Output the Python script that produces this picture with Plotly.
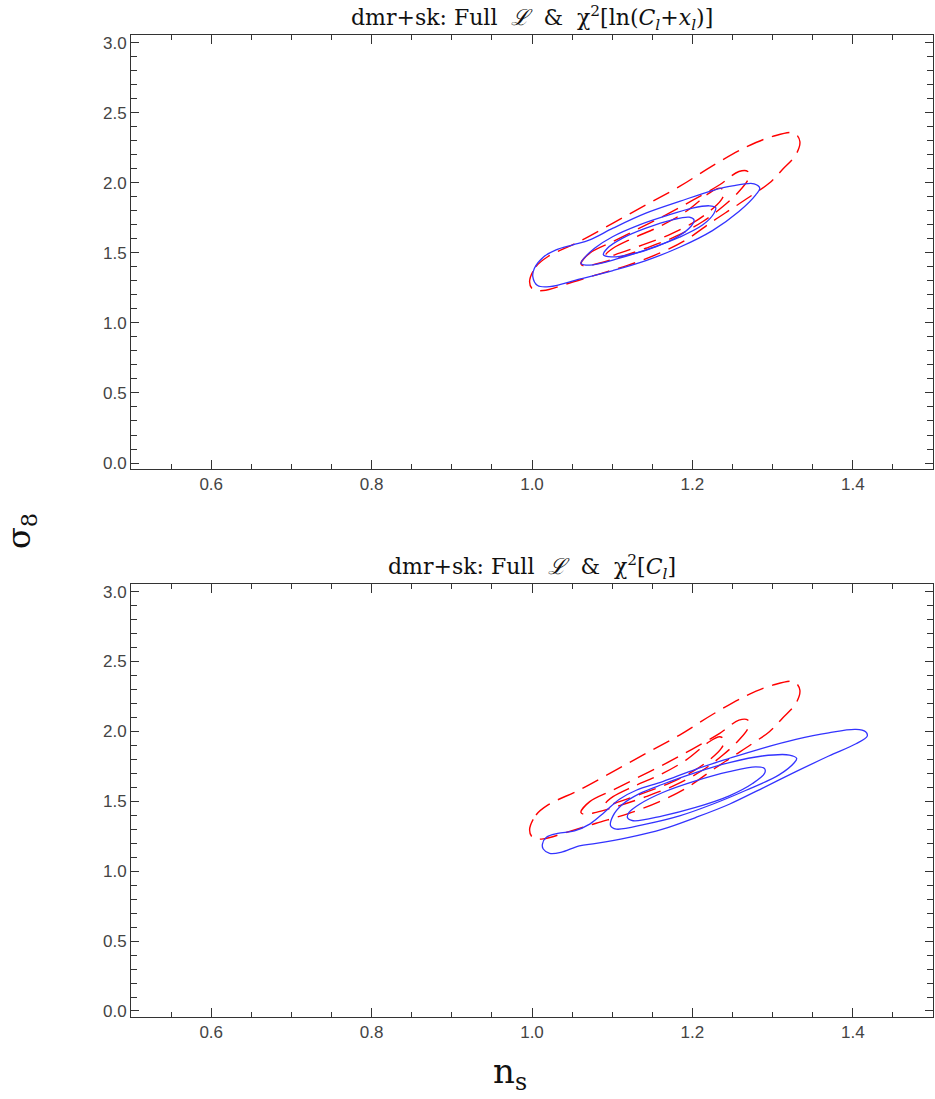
import plotly.graph_objects as go

# ---- data (n_s, sigma_8 vertices of each contour) ----
red_outer_x = [0.997, 1.005, 1.020, 1.059, 1.101, 1.142, 1.184, 1.225, 1.267, 1.300, 1.327, 1.334,
               1.329, 1.312, 1.296, 1.275, 1.250, 1.225, 1.192, 1.159, 1.121, 1.080, 1.043, 1.014, 1.001]
red_outer_y = [1.295, 1.402, 1.474, 1.581, 1.712, 1.843, 1.974, 2.121, 2.255, 2.331, 2.355, 2.295,
               2.200, 2.093, 1.998, 1.914, 1.819, 1.724, 1.593, 1.498, 1.414, 1.343, 1.278, 1.231, 1.240]

red_mid_x = [1.061, 1.072, 1.101, 1.134, 1.167, 1.200, 1.234, 1.258, 1.269, 1.270, 1.258, 1.238,
             1.213, 1.179, 1.142, 1.109, 1.080, 1.065]
red_mid_y = [1.421, 1.498, 1.581, 1.676, 1.771, 1.874, 1.986, 2.081, 2.081, 2.033, 1.938, 1.831,
             1.724, 1.617, 1.533, 1.469, 1.421, 1.407]

red_in_x = [1.092, 1.101, 1.126, 1.159, 1.192, 1.221, 1.234, 1.240, 1.236, 1.221, 1.200, 1.171,
            1.138, 1.109, 1.094]
red_in_y = [1.486, 1.533, 1.605, 1.688, 1.795, 1.926, 1.962, 1.938, 1.878, 1.795, 1.712, 1.629,
            1.557, 1.498, 1.474]

# top panel: chi^2[ln(C_l + x_l)]
blue1_outer_x = [1.001, 1.007, 1.022, 1.059, 1.101, 1.142, 1.184, 1.225, 1.258, 1.279, 1.284,
                 1.277, 1.250, 1.225, 1.184, 1.142, 1.101, 1.072, 1.051, 1.030, 1.014, 1.003]
blue1_outer_y = [1.331, 1.267, 1.259, 1.312, 1.374, 1.445, 1.540, 1.659, 1.795, 1.914, 1.962,
                 1.993, 1.978, 1.945, 1.867, 1.783, 1.676, 1.593, 1.557, 1.521, 1.469, 1.390]

blue1_mid_x = [1.061, 1.072, 1.109, 1.142, 1.184, 1.213, 1.227, 1.229, 1.221, 1.200, 1.167,
               1.134, 1.101, 1.078, 1.065]
blue1_mid_y = [1.426, 1.412, 1.462, 1.521, 1.612, 1.700, 1.783, 1.824, 1.836, 1.819, 1.764,
               1.700, 1.617, 1.533, 1.462]

blue1_in_x = [1.089, 1.099, 1.126, 1.155, 1.182, 1.198, 1.202, 1.196, 1.175, 1.142, 1.113, 1.094]
blue1_in_y = [1.486, 1.471, 1.493, 1.545, 1.617, 1.688, 1.736, 1.755, 1.736, 1.676, 1.605, 1.533]

# bottom panel: chi^2[C_l]
blue2_outer_x = [1.014, 1.022, 1.036, 1.059, 1.080, 1.121, 1.163, 1.204, 1.246, 1.287, 1.329,
                 1.370, 1.404, 1.418, 1.416, 1.404, 1.370, 1.329, 1.287, 1.246, 1.204, 1.163,
                 1.130, 1.109, 1.090, 1.072, 1.053, 1.032, 1.018, 1.013]
blue2_outer_y = [1.159, 1.128, 1.135, 1.182, 1.199, 1.242, 1.301, 1.384, 1.479, 1.593, 1.712,
                 1.824, 1.912, 1.966, 1.997, 2.014, 1.990, 1.943, 1.879, 1.807, 1.729, 1.641,
                 1.579, 1.515, 1.420, 1.337, 1.289, 1.270, 1.242, 1.194]

blue2_mid_x = [1.098, 1.105, 1.142, 1.184, 1.225, 1.267, 1.308, 1.327, 1.330, 1.321, 1.287,
               1.246, 1.204, 1.163, 1.134, 1.113, 1.101]
blue2_mid_y = [1.325, 1.301, 1.337, 1.396, 1.479, 1.579, 1.689, 1.776, 1.807, 1.831, 1.824,
               1.776, 1.705, 1.622, 1.555, 1.479, 1.396]

blue2_in_x = [1.119, 1.126, 1.163, 1.204, 1.246, 1.275, 1.290, 1.290, 1.279, 1.246, 1.204,
              1.163, 1.134, 1.121]
blue2_in_y = [1.384, 1.361, 1.396, 1.456, 1.539, 1.627, 1.700, 1.734, 1.746, 1.712, 1.646,
              1.563, 1.479, 1.420]

x_ticks = [0.6, 0.8, 1.0, 1.2, 1.4]
y_ticks = [0.0, 0.5, 1.0, 1.5, 2.0, 2.5, 3.0]

title_top = ("dmr+sk: Full&nbsp; <i>ℒ</i> &nbsp;& &nbsp;χ<sup>2</sup>[ln(<i>C<sub>l</sub></i>"
             "+<i>x<sub>l</sub></i>)]")
title_bot = "dmr+sk: Full&nbsp; <i>ℒ</i> &nbsp;& &nbsp;χ<sup>2</sup>[<i>C<sub>l</sub></i>]"

RED = "#ff0000"
BLUE = "#3333ff"


def closed(xs, ys):
    return list(xs) + [xs[0]], list(ys) + [ys[0]]


fig = go.Figure()

panels = [
    ("x", "y", [(blue1_outer_x, blue1_outer_y), (blue1_mid_x, blue1_mid_y), (blue1_in_x, blue1_in_y)]),
    ("x2", "y2", [(blue2_outer_x, blue2_outer_y), (blue2_mid_x, blue2_mid_y), (blue2_in_x, blue2_in_y)]),
]
reds = [(red_outer_x, red_outer_y), (red_mid_x, red_mid_y), (red_in_x, red_in_y)]

for xa, ya, blues in panels:
    for xs, ys in reds:
        cx, cy = closed(xs, ys)
        fig.add_trace(go.Scatter(x=cx, y=cy, mode="lines", xaxis=xa, yaxis=ya,
                                 line=dict(color=RED, width=1.4, dash="18px,9px", shape="spline", smoothing=1),
                                 hoverinfo="skip", showlegend=False))
    for xs, ys in blues:
        cx, cy = closed(xs, ys)
        fig.add_trace(go.Scatter(x=cx, y=cy, mode="lines", xaxis=xa, yaxis=ya,
                                 line=dict(color=BLUE, width=1.3, shape="spline", smoothing=1),
                                 hoverinfo="skip", showlegend=False))

tickfont = dict(family="Liberation Sans", size=17, color="#444")
axis_common = dict(showline=True, linecolor="#333", linewidth=1, mirror="allticks",
                   ticks="inside", tickcolor="#333", showgrid=False, zeroline=False,
                   tickfont=tickfont)

xaxis = dict(range=[0.5, 1.5], tickvals=x_ticks, ticktext=[f"{v:.1f}" for v in x_ticks],
             ticklen=9, minor=dict(ticks="inside", ticklen=5, dtick=0.05, tick0=0.5, tickcolor="#333"),
             **axis_common)
yaxis = dict(range=[-0.043, 3.055], tickvals=y_ticks, ticktext=[f"{v:.1f}" for v in y_ticks],
             ticklen=8, minor=dict(ticks="inside", ticklen=6, dtick=0.1, tick0=0.0, tickcolor="#333"),
             **axis_common)

fig.update_layout(
    width=935, height=1099,
    margin=dict(l=131, r=2, t=35, b=82),
    paper_bgcolor="white", plot_bgcolor="white",
    xaxis=dict(anchor="y", **xaxis),
    yaxis=dict(domain=[0.558, 1.0], anchor="x", **yaxis),
    xaxis2=dict(anchor="y2", **xaxis),
    yaxis2=dict(domain=[0.0, 0.441], anchor="x2", **yaxis),
    annotations=[
        dict(text=title_top, xref="paper", yref="paper", x=0.5, y=1.0, yshift=-1,
             xanchor="center", yanchor="bottom", showarrow=False,
             font=dict(family="DejaVu Serif", size=22, color="#111")),
        dict(text=title_bot, xref="paper", yref="paper", x=0.5, y=0.441, yshift=-1,
             xanchor="center", yanchor="bottom", showarrow=False,
             font=dict(family="DejaVu Serif", size=22, color="#111")),
        dict(text="σ<sub>8</sub>", xref="paper", yref="paper", x=-0.137, y=0.495,
             xanchor="center", yanchor="middle", textangle=-90, showarrow=False,
             font=dict(family="DejaVu Serif", size=32, color="#111")),
        dict(text="n<sub>s</sub>", xref="paper", yref="paper", x=0.4726, y=-0.058,
             xanchor="center", yanchor="middle", showarrow=False,
             font=dict(family="DejaVu Serif", size=34, color="#111")),
    ],
)

fig.write_html("out.html", config={"displayModeBar": False},
               post_script="document.body.style.margin='0';document.body.style.overflow='hidden';")
